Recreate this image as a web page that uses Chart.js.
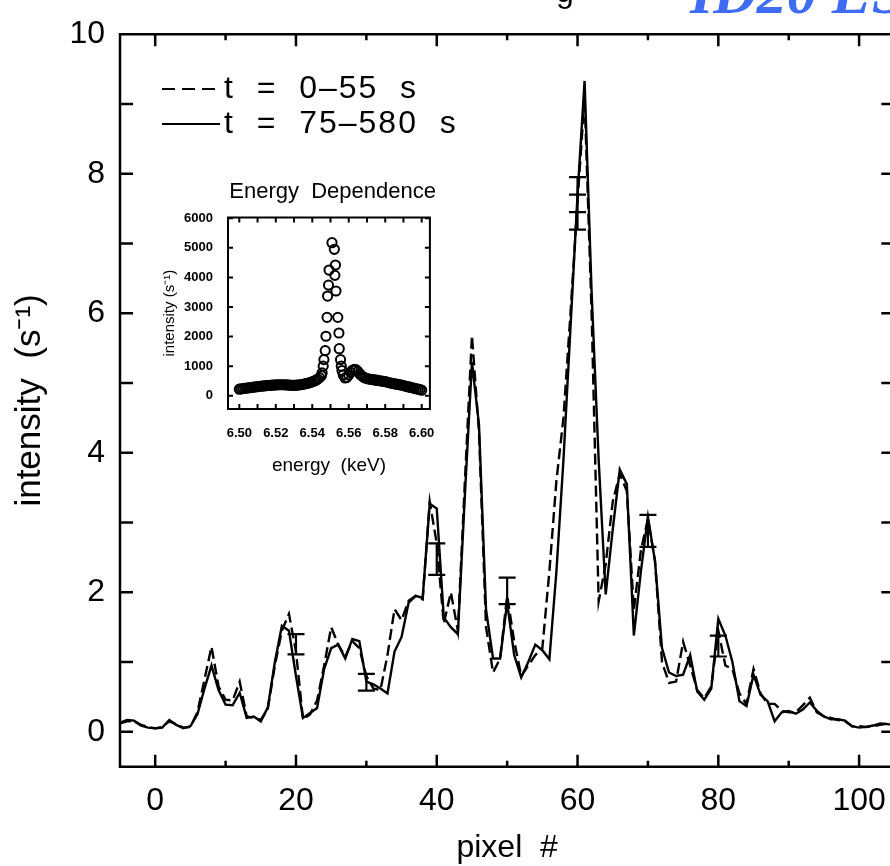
<!DOCTYPE html>
<html>
<head>
<meta charset="utf-8">
<script src="https://cdn.jsdelivr.net/npm/chart.js@4.4.1/dist/chart.umd.min.js"></script>
<style>
html, body { margin: 0; padding: 0; background: #fff; overflow: hidden; }
#wrap { position: relative; width: 890px; height: 866px; overflow: hidden; }
#main { position: absolute; left: 0; top: 0; }
#inset { position: absolute; left: 150px; top: 165px; }
</style>
</head>
<body>
<div id="wrap">
  <canvas id="main" width="905" height="866"></canvas>
  <canvas id="inset" width="302" height="320"></canvas>
</div>
<script>
// ---- main plot: intensity per detector pixel ----
const pixels = Array.from({ length: 111 }, (_, i) => i - 5); // pixel -5 .. 105

// t = 75-580 s (solid)
const lateCounts = [
  0.13, 0.17, 0.16, 0.09, 0.06, 0.05, 0.06, 0.17, 0.10, 0.05,
  0.08, 0.25, 0.62, 0.95, 0.60, 0.39, 0.38, 0.56, 0.20, 0.22,
  0.15, 0.35, 1.00, 1.52, 1.45, 0.80, 0.20, 0.27, 0.34, 0.90,
  1.20, 1.25, 1.05, 1.33, 1.30, 0.72, 0.68, 0.62, 0.55, 1.15,
  1.36, 1.85, 1.95, 1.92, 3.27, 3.20, 1.64, 1.50, 1.40, 3.40,
  5.30, 4.40, 1.75, 1.05, 1.05, 1.85, 1.10, 0.78, 1.00, 1.25,
  1.17, 1.04, 2.30, 3.90, 5.80, 7.70, 9.33, 6.30, 3.90, 1.97,
  2.90, 3.76, 3.55, 1.38, 2.30, 3.08, 2.45, 1.20, 0.85, 0.80,
  0.82, 1.10, 0.58, 0.46, 0.62, 1.62, 1.38, 1.00, 0.44, 0.37,
  0.82, 0.53, 0.44, 0.15, 0.28, 0.30, 0.26, 0.32, 0.42, 0.30,
  0.22, 0.18, 0.18, 0.16, 0.08, 0.06, 0.07, 0.09, 0.12, 0.11,
  0.10
];

// t = 0-55 s (dashed)
const earlyCounts = [
  0.12, 0.15, 0.15, 0.10, 0.07, 0.05, 0.07, 0.15, 0.11, 0.06,
  0.07, 0.28, 0.75, 1.22, 0.65, 0.46, 0.45, 0.72, 0.22, 0.20,
  0.17, 0.33, 0.95, 1.45, 1.69, 1.15, 0.18, 0.25, 0.45, 0.95,
  1.50, 1.25, 1.08, 1.30, 1.20, 0.80, 0.62, 0.60, 1.10, 1.76,
  1.60, 1.88, 1.95, 1.90, 3.30, 2.70, 1.55, 2.00, 1.45, 3.60,
  5.68, 4.30, 1.50, 0.85, 1.05, 1.95, 1.30, 0.80, 0.95, 1.10,
  1.20, 2.30, 3.60, 4.50, 6.00, 7.60, 9.10, 6.00, 1.87, 2.40,
  3.30, 3.70, 3.45, 1.75, 2.60, 3.05, 2.45, 1.00, 0.70, 0.72,
  1.29, 0.95, 0.60, 0.48, 0.65, 1.45, 0.95, 0.90, 0.55, 0.40,
  0.90, 0.55, 0.40, 0.40, 0.30, 0.28, 0.28, 0.38, 0.49, 0.28,
  0.22, 0.20, 0.17, 0.15, 0.08, 0.08, 0.07, 0.08, 0.10, 0.12,
  0.10
];

// representative error bars
const errPixel = [20, 30, 40, 50, 60, 60, 70, 80];
const errLow   = [1.11, 0.59, 2.25, 1.83, 7.45, 7.20, 2.65, 1.08];
const errHigh  = [1.40, 0.83, 2.70, 2.21, 7.95, 7.70, 3.11, 1.38];

// axis ticks (every tick is drawn, only the majors carry a label)
const pixelTicks = [0, 10, 20, 30, 40, 50, 60, 70, 80, 90, 100];
const pixelLabels = [0, 20, 40, 60, 80, 100];
const intensityTicks = [0, 1, 2, 3, 4, 5, 6, 7, 8, 9, 10];
const intensityLabels = [0, 2, 4, 6, 8, 10];

const legendLabels = ['t  =  0\u201355  s', 't  =  75\u2013580  s'];

// ---- inset: energy scan ----
const scanStart = 6.500, scanStep = 0.001;
const scanLeft = [ // 6.500 .. 6.545 keV
  220, 230, 240, 250, 255, 265, 275, 280, 290, 300,
  305, 315, 320, 330, 335, 340, 345, 350, 355, 360,
  365, 365, 370, 370, 370, 365, 365, 360, 355, 350,
  350, 355, 360, 365, 375, 385, 400, 415, 430, 450,
  470, 495, 525, 560, 610, 680
];
const peakEnergy = [6.5454, 6.5460, 6.5464, 6.5471, 6.5475, 6.5481, 6.5484, 6.5489, 6.5492, 6.5508,
                    6.5521, 6.5527, 6.5524, 6.5530, 6.5540, 6.5546, 6.5548, 6.5555, 6.5559, 6.5563];
const peakCounts = [770, 1000, 1220, 1525, 2010, 2650, 3370, 3740, 4250, 5175,
                    4950, 4420, 4070, 3540, 2650, 2120, 1590, 1220, 1000, 850];
const scanRightStart = 6.557;
const scanRight = [ // 6.557 .. 6.600 keV
  700, 600, 620, 700, 790, 860, 890, 880, 820, 740,
  680, 630, 600, 580, 565, 555, 545, 535, 525, 515,
  505, 495, 485, 475, 460, 445, 430, 415, 400, 390,
  380, 370, 355, 340, 325, 310, 295, 280, 265, 250,
  235, 220, 205, 185
];
const energyTicks = [6.50, 6.51, 6.52, 6.53, 6.54, 6.55, 6.56, 6.57, 6.58, 6.59, 6.60];
const energyLabels = [6.50, 6.52, 6.54, 6.56, 6.58, 6.60];
const scanTicks = [0, 1000, 2000, 3000, 4000, 5000, 6000];

const FONT = 'Liberation Sans, Arial, Helvetica, sans-serif';

function isIn(list, v) {
  return list.some(l => Math.abs(l - v) < 1e-6);
}

// box with inward ticks on all four sides
const frameTicks = {
  id: 'frameTicks',
  afterDatasetsDraw(chart, args, o) {
    const { ctx, chartArea: a, scales: { x, y } } = chart;
    ctx.save();
    ctx.strokeStyle = '#000';
    ctx.lineWidth = o.lineWidth;
    ctx.beginPath();
    ctx.rect(a.left, a.top, a.right - a.left, a.bottom - a.top);
    x.ticks.forEach(t => {
      const px = x.getPixelForValue(t.value);
      const len = isIn(o.xMajors, t.value) ? o.major : o.minor;
      ctx.moveTo(px, a.bottom); ctx.lineTo(px, a.bottom - len);
      ctx.moveTo(px, a.top); ctx.lineTo(px, a.top + len);
    });
    y.ticks.forEach(t => {
      const py = y.getPixelForValue(t.value);
      ctx.moveTo(a.left, py); ctx.lineTo(a.left + o.yLen, py);
      ctx.moveTo(a.right, py); ctx.lineTo(a.right - o.yLen, py);
    });
    ctx.stroke();
    ctx.restore();
  }
};

// legend lines + cut-off header text
const mainNotes = {
  id: 'mainNotes',
  afterDraw(chart) {
    const { ctx } = chart;
    ctx.save();
    ctx.strokeStyle = '#000';
    ctx.lineWidth = 2.2;
    ctx.setLineDash([13, 7]);
    ctx.beginPath(); ctx.moveTo(162, 89); ctx.lineTo(220, 89); ctx.stroke();
    ctx.setLineDash([]);
    ctx.beginPath(); ctx.moveTo(162, 124); ctx.lineTo(220, 124); ctx.stroke();
    ctx.fillStyle = '#000';
    ctx.font = '32px ' + FONT;
    ctx.letterSpacing = '2px';
    ctx.textBaseline = 'middle';
    ctx.fillText(legendLabels[0], 224, 89);
    ctx.fillText(legendLabels[1], 224, 124);
    ctx.letterSpacing = '0px';
    ctx.textBaseline = 'alphabetic';
    ctx.fillText('g', 556, 2);
    ctx.fillStyle = '#3f6cf5';
    ctx.font = 'bold italic 60px Liberation Serif, serif';
    ctx.fillText('ID20 ESRF', 690, 13);
    ctx.restore();
  }
};

const errPoints = [];
errPixel.forEach((p, i) => {
  errPoints.push({ x: p, y: errLow[i] }, { x: p, y: errHigh[i] }, { x: p, y: null });
});

new Chart(document.getElementById('main'), {
  type: 'line',
  data: {
    datasets: [
      {
        label: legendLabels[0],
        data: pixels.map((p, i) => ({ x: p, y: earlyCounts[i] })),
        borderColor: '#000',
        borderWidth: 2.4,
        borderDash: [11, 5],
        pointRadius: 0,
        tension: 0
      },
      {
        label: legendLabels[1],
        data: pixels.map((p, i) => ({ x: p, y: lateCounts[i] })),
        borderColor: '#000',
        borderWidth: 2.4,
        pointRadius: 0,
        tension: 0
      },
      {
        label: 'errors',
        data: errPoints,
        borderColor: '#000',
        borderWidth: 2.2,
        pointStyle: 'line',
        pointRadius: 8.5,
        pointBorderWidth: 2.2,
        pointBorderColor: '#000',
        spanGaps: false
      }
    ]
  },
  options: {
    responsive: false,
    animation: false,
    events: [],
    layout: { padding: { top: 24.3, right: 7, bottom: 0, left: 0 } },
    plugins: {
      legend: { display: false },
      tooltip: { enabled: false },
      frameTicks: { lineWidth: 2.5, xMajors: pixelLabels, major: 12, minor: 6, yLen: 13 }
    },
    scales: {
      x: {
        type: 'linear',
        min: -5,
        max: 105,
        afterBuildTicks: s => { s.ticks = pixelTicks.map(v => ({ value: v })); },
        afterFit: s => { s.height = 99.3; },
        grid: { display: false, drawTicks: false },
        border: { display: false },
        ticks: {
          maxRotation: 0,
          autoSkip: false,
          padding: 15,
          color: '#000',
          font: { family: FONT, size: 32 },
          callback: v => (isIn(pixelLabels, v) ? String(v) : '')
        },
        title: {
          display: true,
          text: 'pixel  #',
          color: '#000',
          font: { family: FONT, size: 32, lineHeight: 1 },
          padding: { top: 0, bottom: 2 }
        }
      },
      y: {
        min: -0.5,
        max: 10,
        afterBuildTicks: s => { s.ticks = intensityTicks.map(v => ({ value: v })); },
        afterFit: s => { s.width = 120; },
        grid: { display: false, drawTicks: false },
        border: { display: false },
        ticks: {
          autoSkip: false,
          padding: 15,
          color: '#000',
          font: { family: FONT, size: 32 },
          callback: v => (isIn(intensityLabels, v) ? String(v) : '')
        },
        title: {
          display: true,
          text: 'intensity  (s\u207B\u00B9)',
          color: '#000',
          font: { family: FONT, size: 35 },
          padding: { top: 9, bottom: 0 }
        }
      }
    }
  },
  plugins: [frameTicks, mainNotes]
});

// inset chart
const scanPoints = [];
scanLeft.forEach((v, i) => scanPoints.push({ x: scanStart + i * scanStep, y: v }));
peakEnergy.forEach((e, i) => scanPoints.push({ x: e, y: peakCounts[i] }));
scanRight.forEach((v, i) => scanPoints.push({ x: scanRightStart + i * scanStep, y: v }));

new Chart(document.getElementById('inset'), {
  type: 'scatter',
  data: {
    datasets: [{
      label: 'energy scan',
      data: scanPoints,
      pointRadius: 4.6,
      pointBorderWidth: 2,
      pointBackgroundColor: 'rgba(255,255,255,0)',
      pointBorderColor: '#000'
    }]
  },
  options: {
    responsive: false,
    animation: false,
    events: [],
    layout: { padding: { top: 0, right: 16, bottom: 0, left: 0 } },
    plugins: {
      legend: { display: false },
      tooltip: { enabled: false },
      title: {
        display: true,
        text: 'Energy  Dependence',
        align: 'end',
        color: '#000',
        font: { family: FONT, size: 22, weight: 'normal' },
        padding: { top: 14, bottom: 12 }
      },
      frameTicks: { lineWidth: 2, xMajors: energyLabels, major: 5, minor: 5, yLen: 5 }
    },
    scales: {
      x: {
        type: 'linear',
        min: 6.4938,
        max: 6.6045,
        afterBuildTicks: s => { s.ticks = energyTicks.map(v => ({ value: v })); },
        afterFit: s => { s.height = 76; },
        grid: { display: false, drawTicks: false },
        border: { display: false },
        ticks: {
          maxRotation: 0,
          autoSkip: false,
          padding: 17,
          color: '#000',
          font: { family: FONT, size: 13, weight: 'bold' },
          callback: v => (isIn(energyLabels, v) ? v.toFixed(2) : '')
        },
        title: {
          display: true,
          text: 'energy  (keV)',
          color: '#000',
          font: { family: FONT, size: 19 },
          padding: { top: 0, bottom: 8 }
        }
      },
      y: {
        min: -450,
        max: 6030,
        afterBuildTicks: s => { s.ticks = scanTicks.map(v => ({ value: v })); },
        afterFit: s => { s.width = 78; },
        grid: { display: false, drawTicks: false },
        border: { display: false },
        ticks: {
          autoSkip: false,
          padding: 15,
          color: '#000',
          font: { family: FONT, size: 13, weight: 'bold' },
          callback: v => String(v)
        },
        title: {
          display: true,
          text: 'intensity (s\u207B\u00B9)',
          color: '#000',
          font: { family: FONT, size: 15 },
          padding: { top: 11, bottom: 0 }
        }
      }
    }
  },
  plugins: [frameTicks]
});
</script>
</body>
</html>
